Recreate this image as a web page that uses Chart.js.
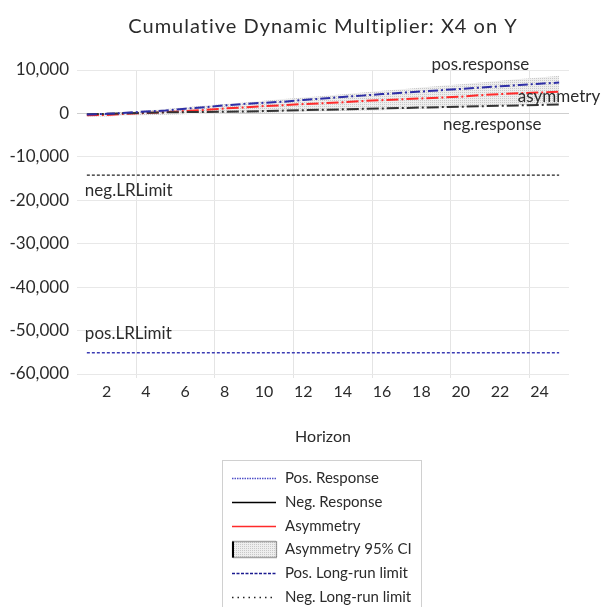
<!DOCTYPE html>
<html>
<head>
<meta charset="utf-8">
<script src="https://cdn.jsdelivr.net/npm/chart.js@4.4.1/dist/chart.umd.min.js"></script>
<style>
	html, body { margin: 0; padding: 0; background: #fff; }
	#wrap { width: 606px; height: 607px; }
</style>
</head>
<body>
<div id="wrap"><canvas id="chart"></canvas></div>
<script>
const horizon = [1, 2, 3, 4, 5, 6, 7, 8, 9, 10, 11, 12, 13, 14, 15, 16, 17, 18, 19, 20, 21, 22, 23, 24, 25];
const posResponse = [-250, -100, 150, 450, 650, 1100, 1450, 1850, 2200, 2450, 2700, 3100, 3450, 3800, 4100, 4450, 4750, 5050, 5350, 5650, 5950, 6250, 6550, 6850, 7100];
const negResponse = [-200, -100, 50, 150, 250, 300, 350, 400, 450, 550, 650, 750, 850, 950, 1050, 1150, 1250, 1350, 1450, 1550, 1650, 1750, 1850, 1950, 2050];
const asymmetry = [-400, -350, -50, 100, 300, 550, 800, 1150, 1400, 1700, 1900, 2150, 2350, 2550, 2850, 3050, 3250, 3450, 3650, 3850, 4200, 4450, 4650, 4800, 5000];
const asymUpper = [-200, 100, 400, 700, 1000, 1400, 1800, 2150, 2500, 2900, 3300, 3650, 4000, 4400, 4800, 5200, 5550, 5950, 6350, 6700, 7100, 7500, 7900, 8300, 8700];
const asymLower = [-700, -700, -500, -400, -300, -200, -100, 0, 100, 150, 250, 350, 450, 550, 650, 750, 900, 1050, 1200, 1350, 1550, 1750, 1950, 2100, 2250];
const posLongRunLimit = -55100;
const negLongRunLimit = -14200;

const chartTitle = 'Cumulative Dynamic Multiplier: X4 on Y';
const font = 'Lato, "Open Sans", sans-serif';
const textColor = '#2b2b2b';

const ctx = document.getElementById('chart').getContext('2d');

// light grey dotted fill for the confidence band
const tile = document.createElement('canvas');
tile.width = 2;
tile.height = 2;
const t = tile.getContext('2d');
t.fillStyle = '#eeeeee';
t.fillRect(0, 0, 2, 2);
t.fillStyle = '#c8c8c8';
t.fillRect(0, 0, 1, 1);
const bandFill = ctx.createPattern(tile, 'repeat');

const first = String(horizon[0]);
const last = String(horizon[horizon.length - 1]);

// text notes placed in data units (period, value)
const notes = [
	{ text: 'pos.response', period: 21, value: 11150, align: 'center' },
	{ text: 'asymmetry', period: 22.9, value: 4000, align: 'left' },
	{ text: 'neg.response', period: 21.6, value: -2450, align: 'center' },
	{ text: 'neg.LRLimit', period: 0.9, value: -17650, align: 'left' },
	{ text: 'pos.LRLimit', period: 0.9, value: -50600, align: 'left' },
];

const notesPlugin = {
	id: 'notes',
	afterDatasetsDraw(chart) {
		const { ctx, scales, chartArea } = chart;
		ctx.save();
		ctx.fillStyle = textColor;
		ctx.textBaseline = 'middle';
		ctx.font = '20px ' + font;
		ctx.letterSpacing = '1px';
		ctx.textAlign = 'center';
		ctx.fillText(chartTitle, (chartArea.left + chartArea.right) / 2, 27);
		ctx.letterSpacing = '0px';
		ctx.font = '17px ' + font;
		notes.forEach((n) => {
			ctx.textAlign = n.align;
			ctx.fillText(n.text, scales.x.getPixelForValue(n.period - 1), scales.y.getPixelForValue(n.value));
		});
		ctx.restore();
	},
};

// boxed, one-item-per-row legend under the axis title
const boxLegend = {
	id: 'boxLegend',
	afterDraw(chart) {
		const c = chart.ctx;
		const left = 222, top = 460, width = 199, rowH = 23.8, firstRow = 478;
		c.save();
		c.strokeStyle = '#d0d0d0';
		c.lineWidth = 1;
		c.strokeRect(left + 0.5, top + 0.5, width, 160);
		c.font = '15px ' + font;
		c.textBaseline = 'middle';
		c.textAlign = 'left';
		let row = 0;
		chart.data.datasets.forEach((ds) => {
			if (!ds.label) return;
			const y = Math.round(firstRow + row * rowH) + 0.5;
			if (ds.fill !== undefined && ds.fill !== false) {
				c.fillStyle = bandFill;
				c.fillRect(232, y - 8, 45, 16);
				c.setLineDash([1, 1]);
				c.strokeStyle = '#555';
				c.strokeRect(232.5, y - 8, 44, 16);
				c.setLineDash([]);
				c.lineWidth = 2;
				c.strokeStyle = '#000';
				c.beginPath();
				c.moveTo(233, y - 8);
				c.lineTo(233, y + 8);
				c.stroke();
				c.lineWidth = 1;
			} else {
				c.strokeStyle = ds.legendColor || ds.borderColor;
				c.lineWidth = 1.3;
				c.setLineDash(ds.legendDash || ds.borderDash || []);
				c.beginPath();
				c.moveTo(232, y);
				c.lineTo(276, y);
				c.stroke();
				c.setLineDash([]);
			}
			c.fillStyle = textColor;
			c.fillText(ds.label, 285, y);
			row++;
		});
		c.restore();
	},
};

new Chart(ctx, {
	type: 'line',
	data: {
		labels: horizon.map(String),
		datasets: [
			{
				label: 'Pos. Response',
				data: posResponse,
				borderColor: '#2e2ea6',
				legendColor: '#5050c8',
				borderWidth: 2,
				borderDash: [10, 3, 2, 3],
				legendDash: [1.5, 1],
				pointRadius: 0,
				order: 0,
			},
			{
				label: 'Neg. Response',
				data: negResponse,
				borderColor: '#333333',
				legendColor: '#000000',
				borderWidth: 2,
				borderDash: [12, 3, 2, 3],
				legendDash: [],
				pointRadius: 0,
				order: 0,
			},
			{
				label: 'Asymmetry',
				data: asymmetry,
				borderColor: '#ff2a2a',
				borderWidth: 2,
				borderDash: [12, 3, 2, 3],
				legendDash: [],
				pointRadius: 0,
				order: 0,
			},
			{
				label: 'Asymmetry 95% CI',
				data: asymUpper,
				borderColor: 'rgba(0,0,0,0)',
				borderWidth: 0,
				backgroundColor: bandFill,
				fill: 6,
				pointRadius: 0,
				order: 2,
			},
			{
				label: 'Pos. Long-run limit',
				data: [{ x: first, y: posLongRunLimit }, { x: last, y: posLongRunLimit }],
				borderColor: '#3c3cb4',
				legendColor: '#1a1a90',
				borderWidth: 1.5,
				borderDash: [3, 2],
				legendDash: [3, 1.5],
				pointRadius: 0,
				order: 1,
			},
			{
				label: 'Neg. Long-run limit',
				data: [{ x: first, y: negLongRunLimit }, { x: last, y: negLongRunLimit }],
				borderColor: '#222222',
				borderWidth: 1.2,
				borderDash: [3, 2],
				legendDash: [1.5, 4],
				pointRadius: 0,
				order: 1,
			},
			{
				label: null,
				data: asymLower,
				borderColor: 'rgba(0,0,0,0)',
				borderWidth: 0,
				pointRadius: 0,
				fill: false,
				order: 2,
			},
		],
	},
	plugins: [notesPlugin, boxLegend],
	options: {
		responsive: true,
		maintainAspectRatio: false,
		animation: false,
		events: [],
		layout: {
			padding: { left: 0, right: 37, top: 70, bottom: 161 },
		},
		plugins: {
			legend: { display: false },
			tooltip: { enabled: false },
			title: { display: false },
		},
		scales: {
			x: {
				type: 'category',
				offset: true,
				afterFit(s) { s.height = 72; },
				border: { display: false },
				grid: {
					offset: true,
					tickLength: 4,
					lineWidth: 1,
					color(c) {
						return c.index % 4 === 3 && c.index < horizon.length ? '#e4e4e4' : 'rgba(0,0,0,0)';
					},
				},
				ticks: {
					autoSkip: false,
					maxRotation: 0,
					padding: 4,
					color: textColor,
					font: { family: font, size: 16 },
					callback(value, index) {
						return horizon[index] % 2 === 0 ? String(horizon[index]) : '';
					},
				},
				title: {
					display: true,
					text: 'Horizon',
					color: textColor,
					font: { family: font, size: 16 },
					padding: { top: 0, bottom: 0 },
				},
			},
			y: {
				min: -60000,
				max: 10000,
				afterFit(s) { s.width = 77; },
				border: { display: false },
				grid: {
					drawTicks: false,
					color(c) {
						return c.tick && c.tick.value === 0 ? '#cfcfcf' : '#e8e8e8';
					},
				},
				ticks: {
					stepSize: 10000,
					padding: 8,
					color: textColor,
					font: { family: font, size: 17 },
					callback(value) {
						return value.toLocaleString('en-US');
					},
				},
			},
		},
	},
});
</script>
</body>
</html>
